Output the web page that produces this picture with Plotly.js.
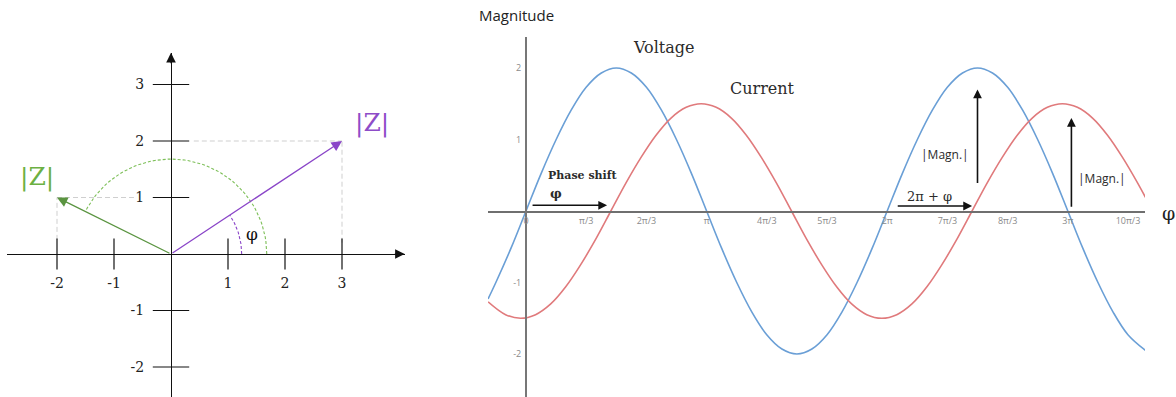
<!DOCTYPE html>
<html>
<head>
<meta charset="utf-8">
<script src="https://cdn.plot.ly/plotly-3.0.1.min.js"></script>
<style>
  html, body { margin: 0; padding: 0; background: #ffffff; }
  #chart { width: 1176px; height: 397px; }
</style>
</head>
<body>
<div id="chart"></div>
<script>
// ---------- Complex plane: impedance vectors ----------
const planeTicks = [-2, -1, 1, 2, 3];
const planeTickText = ['-2', '-1', '1', '2', '3'];
const vectorRe = [3, -2];          // purple, green
const vectorIm = [2, 1];
const vectorColors = ['#8a45c8', '#5a9440'];
const labelColors = ['#8e4cc8', '#6cb043'];
const arcColors = ['#8a45c8', '#7dbf58'];
const arcRadius = [1.24, 1.68];

// ---------- Voltage / current waveforms (phase in units of π) ----------
const phaseTickVals = [0, 1/3, 2/3, 1, 4/3, 5/3, 2, 7/3, 8/3, 3, 10/3];
const phaseTickText = ['0', 'π/3', '2π/3', 'π', '4π/3', '5π/3', '2π', '7π/3', '8π/3', '3π', '10π/3'];
const magnitudeTicks = [-2, -1, 1, 2];
const magnitudeTickText = ['-2', '-1', '1', '2'];

const voltagePhase = [-0.21, -0.167, -0.083,
  0, 0.083, 0.167, 0.25, 0.333, 0.417, 0.5, 0.583, 0.667, 0.75, 0.833, 0.917,
  1, 1.083, 1.167, 1.25, 1.333, 1.417, 1.5, 1.583, 1.667, 1.75, 1.833, 1.917,
  2, 2.083, 2.167, 2.25, 2.333, 2.417, 2.5, 2.583, 2.667, 2.75, 2.833, 2.917,
  3, 3.083, 3.167, 3.25, 3.333, 3.43];
const voltage = [-1.23, -1.0, -0.52,
  0, 0.52, 1.0, 1.41, 1.73, 1.93, 2.0, 1.93, 1.73, 1.41, 1.0, 0.52,
  0, -0.52, -1.0, -1.41, -1.73, -1.93, -2.0, -1.93, -1.73, -1.41, -1.0, -0.52,
  0, 0.52, 1.0, 1.41, 1.73, 1.93, 2.0, 1.93, 1.73, 1.41, 1.0, 0.52,
  0, -0.52, -1.0, -1.41, -1.73, -1.95];

const currentPhase = [-0.21, -0.113, -0.03, 0.053, 0.137, 0.22, 0.303, 0.387,
  0.47, 0.553, 0.637, 0.72, 0.803, 0.887, 0.97, 1.053, 1.137, 1.22, 1.303, 1.387,
  1.47, 1.553, 1.637, 1.72, 1.803, 1.887, 1.97, 2.053, 2.137, 2.22, 2.303, 2.387,
  2.47, 2.553, 2.637, 2.72, 2.803, 2.887, 2.97, 3.053, 3.137, 3.22, 3.303, 3.387, 3.43];
const current = [-1.27, -1.45, -1.5, -1.45, -1.3, -1.06, -0.75, -0.39,
  0, 0.39, 0.75, 1.06, 1.3, 1.45, 1.5, 1.45, 1.3, 1.06, 0.75, 0.39,
  0, -0.39, -0.75, -1.06, -1.3, -1.45, -1.5, -1.45, -1.3, -1.06, -0.75, -0.39,
  0, 0.39, 0.75, 1.06, 1.3, 1.45, 1.5, 1.45, 1.3, 1.06, 0.75, 0.39, 0.19];

const SERIF = '"DejaVu Serif", "Liberation Serif", serif';
const SANS = '"Open Sans", "Noto Sans", sans-serif';

const traces = [];

// dashed projections of each vector onto the axes
const guideGap = [[0.2, 0.4], [0.25, 0.65]];
vectorRe.forEach((re, i) => {
  traces.push({
    x: [re, re, null, i === 0 ? guideGap[i][1] : re, i === 0 ? re : -guideGap[i][1]],
    y: [guideGap[i][0], vectorIm[i], null, vectorIm[i], vectorIm[i]],
    xaxis: 'x', yaxis: 'y', mode: 'lines', hoverinfo: 'skip',
    line: { color: '#cfcfcf', width: 1, dash: '5px,3px' }
  });
});

// dashed angle arcs from the positive real axis to each vector
vectorRe.forEach((re, i) => {
  const end = Math.atan2(vectorIm[i], re);
  const ax = [], ay = [];
  for (let k = 0; k <= 60; k++) {
    const t = end * k / 60;
    ax.push(arcRadius[i] * Math.cos(t));
    ay.push(arcRadius[i] * Math.sin(t));
  }
  traces.push({
    x: ax, y: ay, xaxis: 'x', yaxis: 'y', mode: 'lines', hoverinfo: 'skip',
    line: { color: arcColors[i], width: 1.1, dash: '3px,2px' }
  });
});

// tick marks crossing both axes of the plane
traces.push({
  x: planeTicks, y: planeTicks.map(() => 0), xaxis: 'x', yaxis: 'y', mode: 'markers', hoverinfo: 'skip',
  marker: { symbol: 'line-ns-open', size: 22, color: '#111', line: { color: '#111', width: 1.2 } }
});
traces.push({
  x: planeTicks.map(() => 0), y: planeTicks, xaxis: 'x', yaxis: 'y', mode: 'markers', hoverinfo: 'skip',
  marker: { symbol: 'line-ew-open', size: 26, color: '#111', line: { color: '#111', width: 1.2 } }
});

// waveforms
traces.push({
  name: 'Voltage', x: voltagePhase, y: voltage, xaxis: 'x2', yaxis: 'y2',
  mode: 'lines', line: { color: '#6a9fd6', width: 1.6, shape: 'spline' }, hoverinfo: 'skip'
});
traces.push({
  name: 'Current', x: currentPhase, y: current, xaxis: 'x2', yaxis: 'y2',
  mode: 'lines', line: { color: '#e07a7c', width: 1.6, shape: 'spline' }, hoverinfo: 'skip'
});

function arrow(ref, x0, y0, x1, y1, color, width, size) {
  return {
    xref: 'x' + ref, yref: 'y' + ref, axref: 'x' + ref, ayref: 'y' + ref,
    x: x1, y: y1, ax: x0, ay: y0, text: '', showarrow: true,
    arrowhead: 2, arrowsize: size, arrowwidth: width, arrowcolor: color, standoff: 0, startstandoff: 0
  };
}
function label(ref, x, y, text, font, xanchor) {
  return { xref: 'x' + ref, yref: 'y' + ref, x: x, y: y, text: text, showarrow: false,
           font: font, xanchor: xanchor || 'center', yanchor: 'middle' };
}

const annotations = [
  // plane axes arrowheads
  arrow('', 3.9, 0, 4.1, 0, '#111', 1.2, 1.6),
  arrow('', 0, 3.35, 0, 3.56, '#111', 1.2, 1.6),
  label('', 0, 3.91, 'Im', { family: SERIF, size: 18, color: '#111' }),
  label('', 4.33, 0.03, 'Re', { family: SERIF, size: 18, color: '#111' }, 'left'),
  // impedance vectors
  arrow('', 0, 0, vectorRe[0], vectorIm[0], vectorColors[0], 1.3, 1.6),
  arrow('', 0, 0, vectorRe[1], vectorIm[1], vectorColors[1], 1.3, 1.6),
  label('', 3.52, 2.32, '|Z|', { family: SERIF, size: 25, color: labelColors[0] }),
  label('', -2.35, 1.36, '|Z|', { family: SERIF, size: 25, color: labelColors[1] }),
  label('', 1.42, 0.35, 'φ', { family: SERIF, size: 17, color: '#111' }),

  // waveform annotations
  { xref: 'paper', yref: 'paper', x: 477 / 1176, y: 1 - 15 / 397, text: 'Magnitude', showarrow: false,
    xanchor: 'left', yanchor: 'middle', font: { family: SANS, size: 15, color: '#222' } },
  { xref: 'paper', yref: 'paper', x: 1160 / 1176, y: 1 - 213 / 397, text: 'φ', showarrow: false,
    xanchor: 'left', yanchor: 'middle', font: { family: SERIF, size: 19, color: '#222' } },
  label('2', 0.764, 2.29, 'Voltage', { family: SERIF, size: 16, color: '#2b2b2b' }),
  label('2', 1.307, 1.72, 'Current', { family: SERIF, size: 16, color: '#2b2b2b' }),
  label('2', 0.11, 0.49, '<b>Phase shift</b>', { family: SERIF, size: 11, color: '#2b2b2b' }, 'left'),
  label('2', 0.12, 0.25, '<b>φ</b>', { family: SERIF, size: 13, color: '#2b2b2b' }, 'left'),
  arrow('2', 0.028, 0.08, 0.449, 0.08, '#111', 1.6, 1.1),
  label('2', 2.1, 0.2, '2π + φ', { family: SERIF, size: 13, color: '#2b2b2b' }, 'left'),
  arrow('2', 2.05, 0.07, 2.47, 0.07, '#111', 1.6, 1.1),
  arrow('2', 2.5, 0.37, 2.5, 1.7, '#111', 1.6, 1.1),
  label('2', 2.32, 0.79, '|Magn.|', { family: SANS, size: 12, color: '#2b2b2b' }),
  arrow('2', 3.02, 0.04, 3.02, 1.3, '#111', 1.6, 1.1),
  label('2', 3.19, 0.45, '|Magn.|', { family: SANS, size: 12, color: '#2b2b2b' })
];

const layout = {
  width: 1176, height: 397,
  margin: { l: 0, r: 0, t: 0, b: 0, pad: 0 },
  paper_bgcolor: '#ffffff', plot_bgcolor: 'rgba(0,0,0,0)',
  showlegend: false,
  xaxis: {
    domain: [7 / 1176, 405 / 1176], range: [-164 / 57, 234 / 57],
    anchor: 'free', position: 143 / 397,
    showline: true, linecolor: '#111', linewidth: 1.2,
    showgrid: false, zeroline: false, ticks: '',
    tickmode: 'array', tickvals: planeTicks, ticktext: planeTickText, ticklabelstandoff: 16,
    tickfont: { family: SERIF, size: 14, color: '#222' }, fixedrange: true
  },
  yaxis: {
    domain: [0, 344 / 397], range: [-143 / 56.5, 201 / 56.5],
    anchor: 'free', position: 171 / 1176,
    showline: true, linecolor: '#111', linewidth: 1.2,
    showgrid: false, zeroline: false, ticks: '',
    tickmode: 'array', tickvals: planeTicks, ticktext: planeTickText, ticklabelstandoff: 24,
    tickfont: { family: SERIF, size: 14, color: '#222' }, fixedrange: true
  },
  xaxis2: {
    domain: [488 / 1176, 1145 / 1176], range: [-38 / 180.6, 619 / 180.6],
    anchor: 'free', position: 186 / 397,
    showline: true, linecolor: '#6f6f6f', linewidth: 1.5,
    showgrid: false, zeroline: false, ticks: '',
    tickmode: 'array', tickvals: phaseTickVals, ticktext: phaseTickText, ticklabelstandoff: 1,
    tickfont: { family: SANS, size: 9, color: '#8a8a8a' }, fixedrange: true
  },
  yaxis2: {
    domain: [0, 360 / 397], range: [-186 / 71.5, 174 / 71.5],
    anchor: 'free', position: 526 / 1176,
    showline: true, linecolor: '#777777', linewidth: 2,
    showgrid: false, zeroline: false, ticks: '',
    tickmode: 'array', tickvals: magnitudeTicks, ticktext: magnitudeTickText, ticklabelstandoff: 2,
    tickfont: { family: SANS, size: 9, color: '#8a8a8a' }, fixedrange: true
  },
  annotations: annotations
};

Plotly.newPlot('chart', traces, layout, { staticPlot: true, displayModeBar: false });
</script>
</body>
</html>
